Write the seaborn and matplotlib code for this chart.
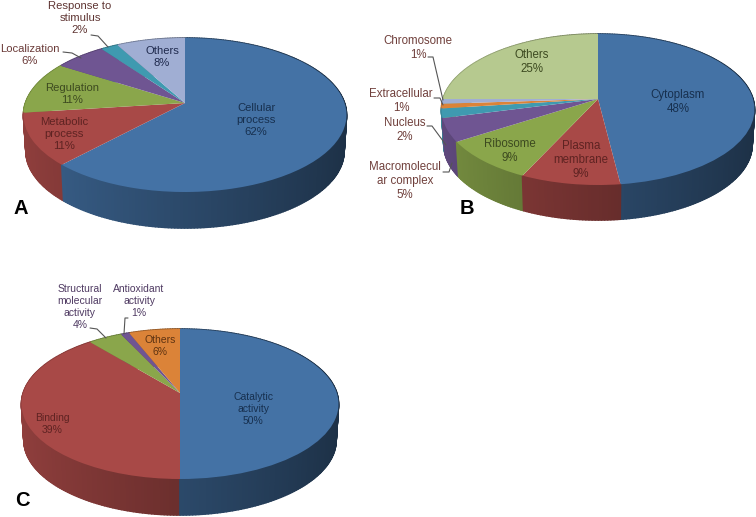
import numpy as np
import matplotlib
matplotlib.use("Agg")
import matplotlib.pyplot as plt
from matplotlib.transforms import Transform
from matplotlib.collections import PolyCollection
from matplotlib.colors import to_rgb
import seaborn as sns

# ---- data ----
labels_a = ["Cellular\nprocess\n62%", "Metabolic\nprocess\n11%", "Regulation\n11%",
            "Localization\n6%", "Response to\nstimulus\n2%", "Others\n8%"]
values_a = [62, 11, 11, 6, 2, 8]
labels_b = ["Cytoplasm\n48%", "Plasma\nmembrane\n9%", "Ribosome\n9%",
            "Macromolecul\nar complex\n5%", "Nucleus\n2%", "Extracellular\n1%",
            "Chromosome\n1%", "Others\n25%"]
values_b = [48, 9, 9, 5, 2, 1, 1, 25]
labels_c = ["Catalytic\nactivity\n50%", "Binding\n39%",
            "Structural\nmolecular\nactivity\n4%", "Antioxidant\nactivity\n1%", "Others\n6%"]
values_c = [50, 39, 4, 1, 6]

# ---- styles ----
BLUE, RED, GREEN, PURPLE, TEAL = "#4472a5", "#a84947", "#8aa64b", "#6f5592", "#3f9ab0"
ORANGE, PERI, LGREEN = "#db8338", "#a0aed3", "#b6c98f"
colors_a = sns.color_palette([BLUE, RED, GREEN, PURPLE, TEAL, PERI])
colors_b = sns.color_palette([BLUE, RED, GREEN, PURPLE, TEAL, ORANGE, PERI, LGREEN])
colors_c = sns.color_palette([BLUE, RED, GREEN, PURPLE, ORANGE])

txt_a = ["#17304f", "#5e2322", "#3d4a20", "#6a3a38", "#5f3533", "#1f2a4d"]
txt_b = ["#17304f", "#5e2322", "#3d4a20", "#70403c", "#70403c", "#70403c", "#70403c", "#3d4a20"]
txt_c = ["#17304f", "#5e2322", "#4f3a62", "#4f3a62", "#5e3312"]

pos_a = [(256, 120), (64, 134), (72, 94), (30, 55), (80, 18), (162, 57)]
pos_b = [(678, 102), (581, 160), (510, 151), (405, 181), (405, 130), (401, 101), (418, 48), (532, 62)]
pos_c = [(253, 409), (52, 424), (80, 307), (139, 301), (160, 346)]

leaders_a = [[(91, 35), (98, 36), (108, 47)], [(63, 52), (72, 53), (81, 58)]]
leaders_b = [[(428, 57), (433, 57), (443, 100)], [(434, 98), (440, 98), (443, 105)],
             [(427, 126), (432, 126), (446, 145)], [(443, 172), (449, 172), (452, 163)]]
leaders_c = [[(90, 328), (97, 329), (106, 338)], [(128, 318), (125, 318), (124, 334)]]

sns.set_theme(style="white")
plt.rcParams["font.family"] = ["Liberation Sans", "DejaVu Sans"]

fig = plt.figure(figsize=(7.56, 5.17), dpi=100, facecolor="white")
ax = fig.add_axes([0, 0, 1, 1])


class Perspective(Transform):
    """Tilted-disc projection of the unit pie into pixel coordinates."""
    input_dims = output_dims = 2

    def __init__(self, cx, cy, up, down, half_w):
        super().__init__()
        self.k = (down - up) / (down + up)
        self.sy = up * (1 + self.k)
        self.sx = half_w * np.sqrt(1 - self.k ** 2)
        self.cx, self.cy = cx, cy

    def transform_non_affine(self, values):
        values = np.asarray(values, dtype=float)
        den = 1 + self.k * values[:, 1]
        return np.column_stack((self.cx + self.sx * values[:, 0] / den,
                                self.cy - self.sy * values[:, 1] / den))


def pie3d(values, colors, labels, tcolors, positions, leaders, letter, letter_pos,
          cx, cy, up, down, half_w, depth, fs, ls):
    persp = Perspective(cx, cy, up, down, half_w)
    wedges, _ = ax.pie(values, colors=colors, startangle=90, counterclock=False,
                       radius=1, wedgeprops=dict(linewidth=0))
    quads = []
    for w, col in zip(wedges, colors):
        th = np.radians(np.linspace(w.theta1, w.theta2, max(int(w.theta2 - w.theta1), 2) + 1))
        ring = persp.transform(np.column_stack((np.cos(th), np.sin(th))))
        low = ring.copy()
        low[:, 0] = cx + (low[:, 0] - cx) * 0.985
        low[:, 1] += depth
        rgb = np.array(to_rgb(col))
        for i in range(len(th) - 1):
            u = np.cos((th[i] + th[i + 1]) / 2)
            quads.append((ring[i][1] + ring[i + 1][1],
                          [ring[i], ring[i + 1], low[i + 1], low[i]],
                          rgb * (0.86 - 0.44 * (u + 1) / 2)))
    quads.sort(key=lambda q: q[0])  # far side first, near side on top
    faces = [q[2] for q in quads]
    ax.add_collection(PolyCollection([q[1] for q in quads], facecolors=faces, edgecolors=faces,
                                     linewidths=1.2, zorder=0.5))
    for w in wedges:
        w.set_transform(persp + ax.transData)
        w.set_zorder(1)
    for lab, tc, p in zip(labels, tcolors, positions):
        ax.text(p[0], p[1], lab, color=tc, fontsize=fs, ha="center", va="center",
                linespacing=ls, zorder=3)
    for seg in leaders:
        xs, ys = zip(*seg)
        ax.plot(xs, ys, color="#555555", lw=0.8, zorder=2.5)
    ax.text(letter_pos[0], letter_pos[1], letter, color="black", fontsize=14.5,
            fontweight="bold", ha="center", va="center", zorder=3)


pie3d(values_a, colors_a, labels_a, txt_a, pos_a, leaders_a, "A", (21, 209),
      185, 103, 65, 89, 161.5, 36, 8.1, 1.22)
pie3d(values_b, colors_b, labels_b, txt_b, pos_b, leaders_b, "B", (467, 208),
      598, 99, 65, 86, 156.5, 35, 8.3, 1.2)
pie3d(values_c, colors_c, labels_c, txt_c, pos_c, leaders_c, "C", (22, 500),
      180, 393, 64, 86, 158.5, 36, 7.5, 1.22)

ax.set_aspect("auto")
ax.set_xlim(0, 756)
ax.set_ylim(517, 0)
ax.axis("off")
fig.savefig("out.png", dpi=100, facecolor="white")
